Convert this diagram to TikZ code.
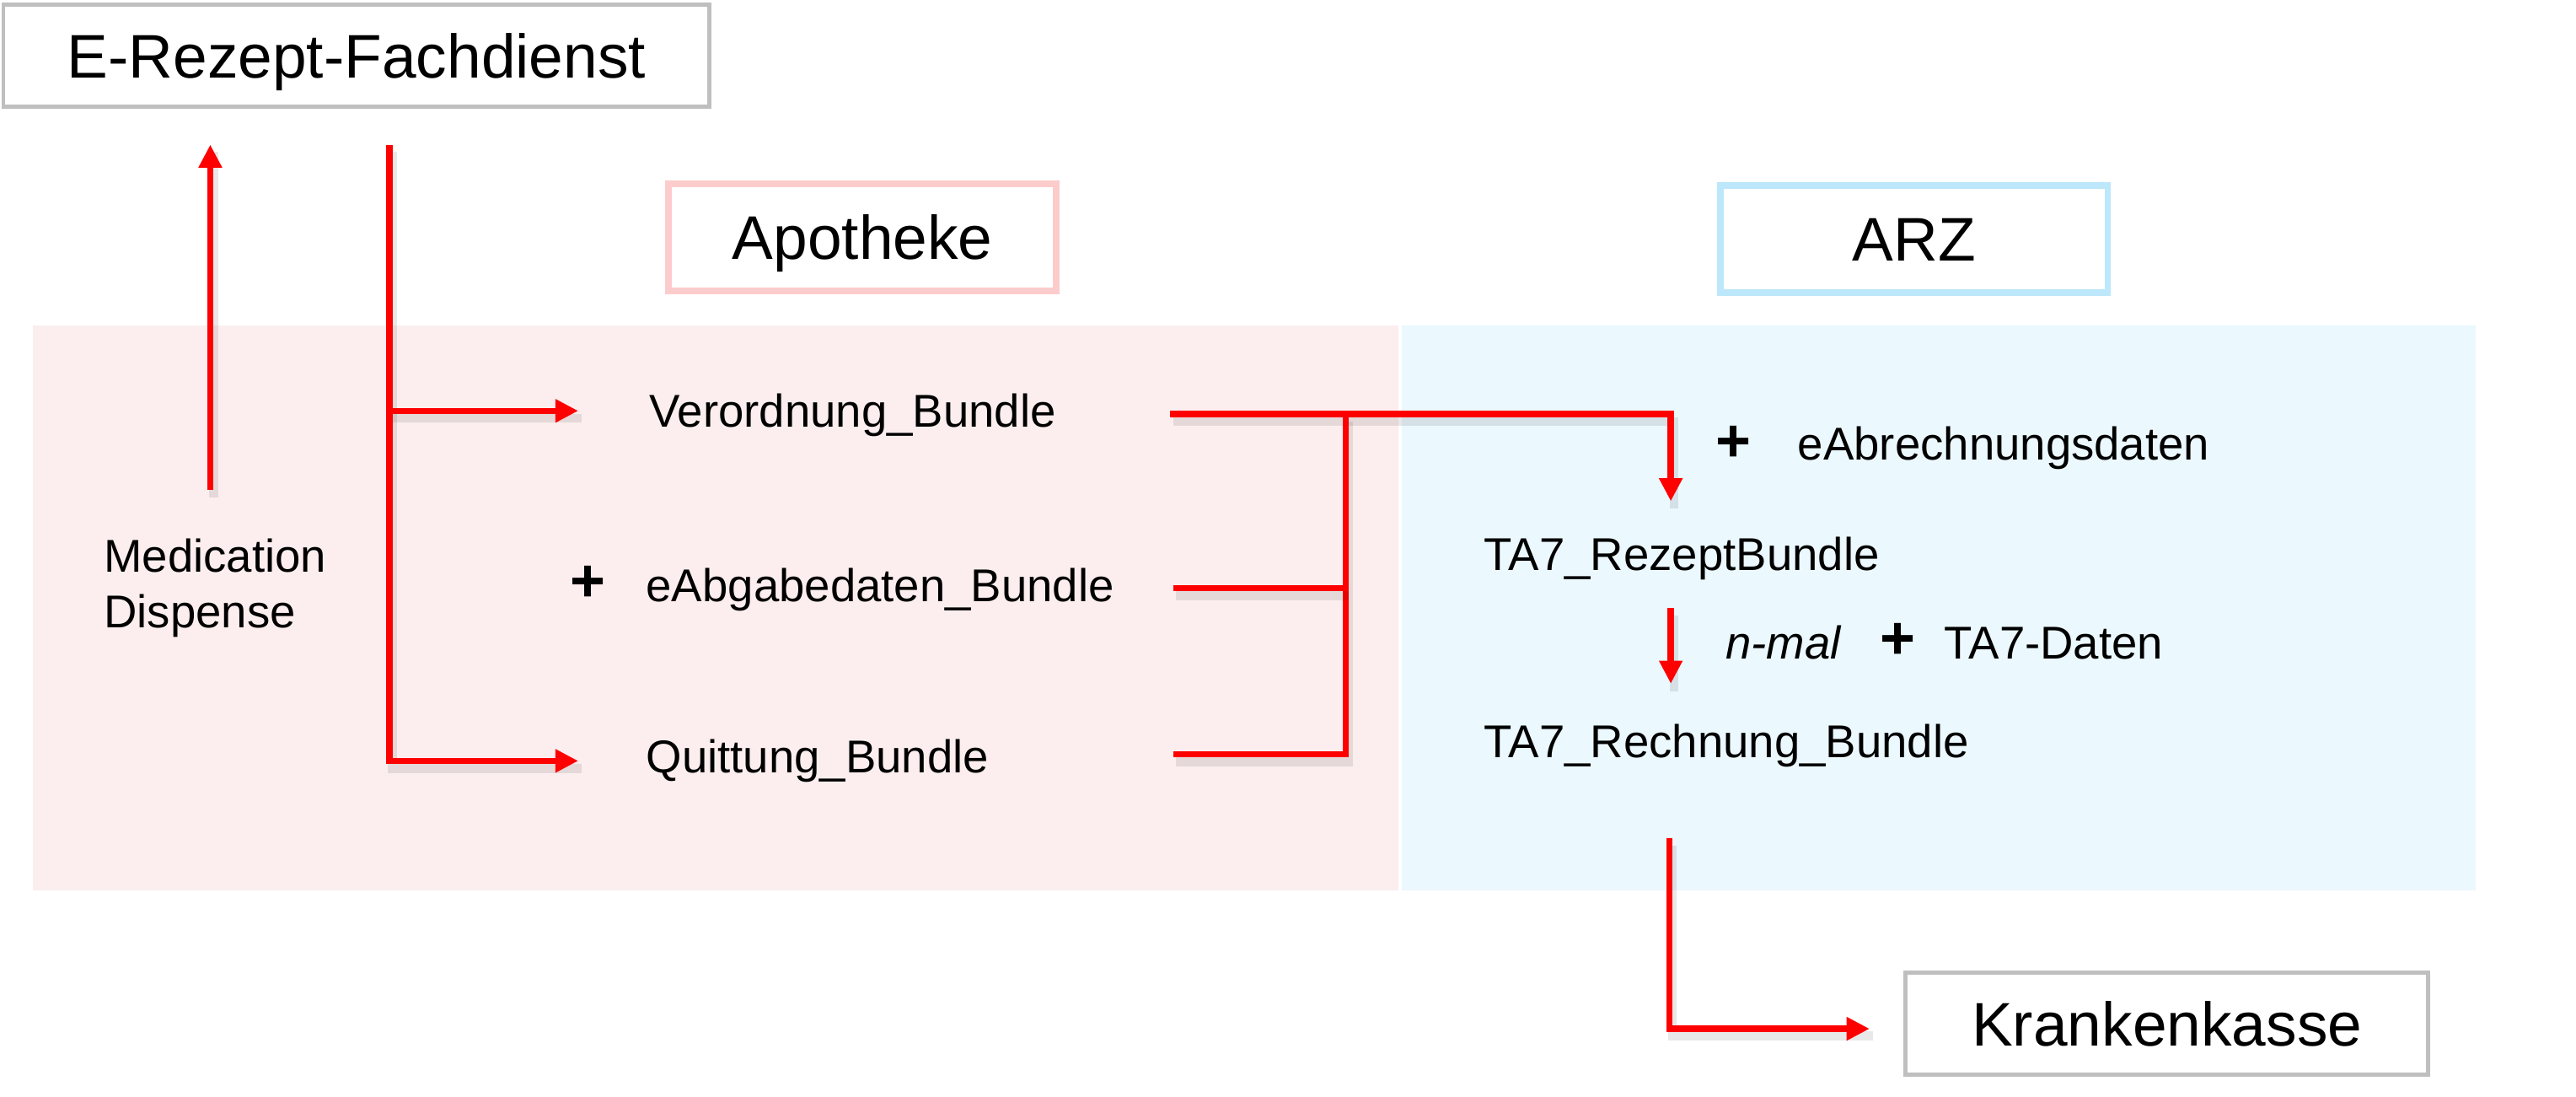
\documentclass[tikz,border=0pt]{standalone}
\usepackage{fontspec}
\setmainfont{Liberation Sans}
\usetikzlibrary{arrows.meta}
\definecolor{grayBd}{RGB}{191,191,191}
\definecolor{pinkBd}{RGB}{252,204,204}
\definecolor{blueBd}{RGB}{189,231,250}
\definecolor{pinkBg}{RGB}{252,238,238}
\definecolor{blueBg}{RGB}{235,248,254}
\definecolor{arrRed}{RGB}{255,0,0}
\tikzset{
  bigbox/.style={draw, line width=0.05cm, fill=white, inner sep=0pt,
    font=\fontsize{21.34pt}{25pt}\selectfont, text height=15.3pt, text depth=0pt,
    minimum height=1.24cm},
  smalltxt/.style={anchor=base west, inner sep=0pt, font=\fontsize{15.93pt}{19pt}\selectfont},
  plustxt/.style={anchor=base, inner sep=0pt, font=\fontsize{21pt}{22pt}\selectfont\bfseries},
  conn/.style={draw=arrRed, line width=0.075cm,
    preaction={arrows=-, draw=black, opacity=0.09, line width=0.11cm,
      transform canvas={shift={(0.04cm,-0.09cm)}}}},
  arr/.style={conn, -{Triangle[length=0.28cm,width=0.27cm]}}
}
\begin{document}
\begin{tikzpicture}[x=0.02cm,y=-0.02cm]
\useasboundingbox (0,0) rectangle (1568,667.5);
% backgrounds
\fill[pinkBg] (20,198) rectangle (851,542);
\fill[blueBg] (853,198) rectangle (1507,542);
% boxes
\node[bigbox, draw=grayBd, minimum width=8.6cm] (fach) at (217,34) {E-Rezept-Fachdienst};
\node[bigbox, draw=pinkBd, line width=0.08cm, minimum width=4.72cm, minimum height=1.3cm] (apo) at (525,144.5) {Apotheke};
\node[bigbox, draw=blueBd, line width=0.08cm, minimum width=4.72cm, minimum height=1.3cm] (arz) at (1165,145.5) {ARZ};
\node[bigbox, draw=grayBd, minimum width=6.36cm] (kk) at (1319,623) {Krankenkasse};
% texts
\node[smalltxt] (med1) at (63,348) {Medication};
\node[smalltxt] (med2) at (63,382) {Dispense};
\node[smalltxt] (verb) at (395,260) {Verordnung\_Bundle};
\node[plustxt] (p1) at (358,366) {+};
\node[smalltxt] (abg) at (393,366) {eAbgabedaten\_Bundle};
\node[smalltxt] (quit) at (393,470) {Quittung\_Bundle};
\node[plustxt] (p2) at (1055,281) {+};
\node[smalltxt] (eabr) at (1094,280) {eAbrechnungsdaten};
\node[smalltxt] (rz) at (903,347) {TA7\_RezeptBundle};
\node[smalltxt, font=\fontsize{15.93pt}{19pt}\selectfont\itshape] (nmal) at (1050,401) {n-mal};
\node[plustxt] (p3) at (1155,401) {+};
\node[smalltxt] (tad) at (1183,401) {TA7-Daten};
\node[smalltxt] (rb) at (903,461) {TA7\_Rechnung\_Bundle};
% connector coordinates
\coordinate (mdbot) at (128,298);
\coordinate (mdtop) at (128,88);
\coordinate (fdout) at (237,88);
\coordinate (vbr) at (237,250);
\coordinate (vin) at (352,250);
\coordinate (qin) at (352,463);
\coordinate (vout) at (712,252);
\coordinate (jtop) at (819,252);
\coordinate (aout) at (714,358);
\coordinate (jmid) at (819,358);
\coordinate (qout) at (714,459);
\coordinate (rzin) at (1017,305);
\coordinate (nmtop) at (1017,370);
\coordinate (nmbot) at (1017,416);
\coordinate (rbout) at (1016,510);
\coordinate (kkin) at (1138,626);
% connectors
\draw[arr] (mdbot) -- (mdtop);
\draw[arr] (fdout) |- (qin);
\draw[arr] (vbr) -- (vin);
\draw[arr] (vout) -| (rzin);
\draw[conn] (qout) -| (jtop);
\draw[conn] (aout) -- (jmid);
\draw[arr] (nmtop) -- (nmbot);
\draw[arr] (rbout) |- (kkin);
\end{tikzpicture}
\end{document}
